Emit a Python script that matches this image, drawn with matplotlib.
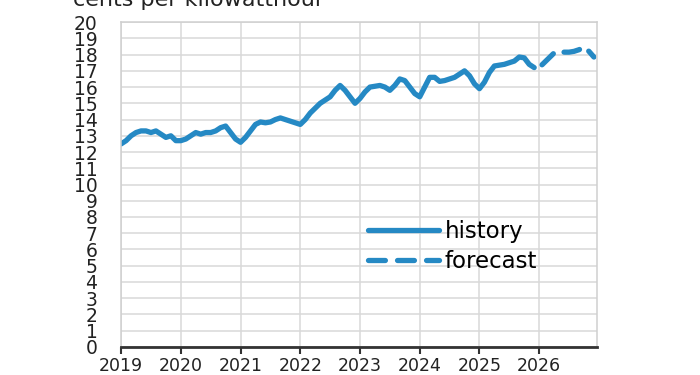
import numpy as np
import matplotlib
matplotlib.use("Agg")
import matplotlib.pyplot as plt
from matplotlib.lines import Line2D

plt.rcParams["font.family"] = ["DejaVu Sans"]

# monthly residential electricity price, cents per kWh (Jan 2019 - Dec 2025)
history = [
    12.5, 12.7, 13.0, 13.2, 13.3, 13.3, 13.2, 13.3, 13.1, 12.9, 13.0, 12.7,  # 2019
    12.7, 12.8, 13.0, 13.2, 13.1, 13.2, 13.2, 13.3, 13.5, 13.6, 13.2, 12.8,  # 2020
    12.6, 12.9, 13.3, 13.7, 13.85, 13.8, 13.85, 14.0, 14.1, 14.0, 13.9, 13.8,  # 2021
    13.7, 14.0, 14.4, 14.7, 15.0, 15.2, 15.4, 15.8, 16.1, 15.8, 15.4, 15.0,  # 2022
    15.3, 15.7, 16.0, 16.05, 16.1, 16.0, 15.8, 16.1, 16.5, 16.4, 16.0, 15.6,  # 2023
    15.4, 16.0, 16.6, 16.6, 16.35, 16.4, 16.5, 16.6, 16.8, 17.0, 16.7, 16.2,  # 2024
    15.9, 16.3, 16.9, 17.3, 17.35, 17.4, 17.5, 17.6, 17.85, 17.8, 17.4, 17.2,  # 2025
]
# Dec 2025 - Dec 2026
forecast = [17.2, 17.2, 17.5, 17.8, 18.1, 18.1, 18.15, 18.15, 18.2, 18.3, 18.45, 18.2, 17.85]
years = list(range(2019, 2027))
y_ticks = list(range(0, 21))

x_hist = 2019 + np.arange(len(history)) / 12
x_fc = x_hist[-1] + np.arange(len(forecast)) / 12

blue = "#2589c4"
lw = 3.8

fig = plt.figure(figsize=(7, 3.75), dpi=100)
ax = fig.add_axes([0.173, 0.075, 0.68, 0.866])

ax.plot(x_hist, history, color=blue, lw=lw, solid_capstyle="round",
        solid_joinstyle="round")
ax.plot(x_fc, forecast, color=blue, lw=lw, linestyle=(3.4, (3.0, 2.1)),
        dash_capstyle="round")

ax.set_xlim(2019, 2026.97)
ax.set_ylim(0, 20)
ax.set_xticks(years)
ax.set_xticklabels([str(y) for y in years])
ax.set_yticks(y_ticks)
ax.set_yticklabels([str(v) for v in y_ticks])
ax.grid(True, color="#d9d9d9", lw=1.1)
ax.set_axisbelow(True)

for s in ["left", "top", "right"]:
    ax.spines[s].set_color("#cfcfcf")
    ax.spines[s].set_linewidth(1.1)
ax.spines["bottom"].set_color("#333333")
ax.spines["bottom"].set_linewidth(2)

ax.tick_params(axis="y", length=0, pad=17, labelsize=13.5, colors="#222222")
ax.tick_params(axis="x", direction="out", length=5, width=1.5, color="#333333",
               pad=2, labelsize=12.5, labelcolor="#222222")

# legend handles drawn with the dash pattern starting at 0
handles = [
    Line2D([], [], color=blue, lw=lw, solid_capstyle="round"),
    Line2D([], [], color=blue, lw=lw, linestyle=(0, (3.2, 2.3)), dash_capstyle="round"),
]
ax.legend(handles, ["history", "forecast"], loc="center left",
          bbox_to_anchor=(0.519, 0.308), frameon=False,
          handlelength=3.1, handletextpad=0.25, labelspacing=0.3,
          fontsize=16.5, borderaxespad=0, borderpad=0)

fig.text(0.104, 0.984, "cents per kilowatthour", fontsize=16, color="#222222",
         va="baseline", ha="left")

fig.savefig("out.png", dpi=100)
